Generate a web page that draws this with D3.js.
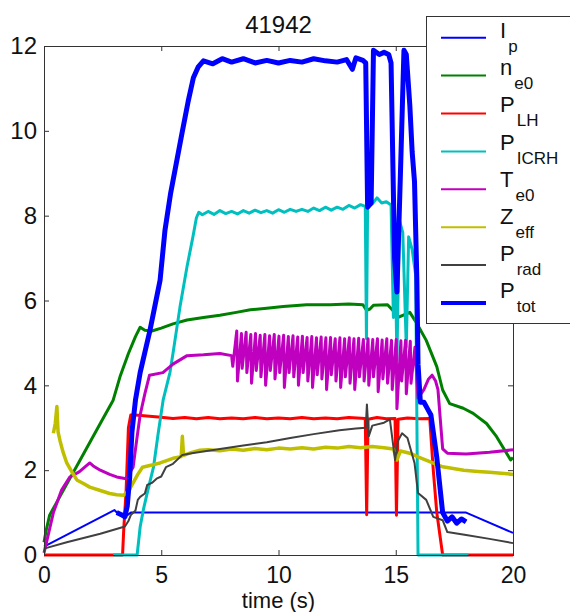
<!DOCTYPE html>
<html>
<head>
<meta charset="utf-8">
<script src="https://cdn.jsdelivr.net/npm/d3@7/dist/d3.min.js"></script>
<style>
  body { margin: 0; background: #fff; }
  text { font-family: "Liberation Sans", Arial, sans-serif; fill: #111; }
</style>
</head>
<body>
<div id="chart"></div>
<script>
// shot number and axis ticks
var shotTitle = "41942";
var xTicks = [0, 5, 10, 15, 20];
var yTicks = [0, 2, 4, 6, 8, 10, 12];

// legend labels (main letter + subscript)
var legendMain = ["I", "n", "P", "P", "T", "Z", "P", "P"];
var legendSub = ["p", "e0", "LH", "ICRH", "e0", "eff", "rad", "tot"];

// traces: [time (s), value]
var ip = [[0, 0.2], [3.0, 1.06], [3.2, 0.95], [3.45, 0.9], [3.7, 1.0], [18.0, 1.0], [20, 0.52]];

var ne0 = [[0, 0.3], [0.1, 0.6], [0.24, 0.94], [0.6, 1.3], [1.0, 1.7], [1.5, 2.2], [2.0, 2.7], [2.5, 3.2],
  [2.95, 3.65], [3.24, 4.2], [3.6, 4.75], [3.9, 5.15], [4.1, 5.37], [4.3, 5.3], [4.6, 5.28], [5.0, 5.35],
  [5.5, 5.45], [6.1, 5.54], [6.8, 5.6], [7.5, 5.65], [8.2, 5.72], [8.8, 5.78], [9.5, 5.82], [10.2, 5.86],
  [11.2, 5.9], [12.2, 5.9], [13.0, 5.92], [13.6, 5.9], [13.75, 5.77], [13.9, 5.8], [14.05, 5.89], [14.65, 5.9],
  [14.9, 5.75], [15.1, 5.6], [15.3, 5.65], [15.6, 5.72], [15.9, 5.46], [16.3, 5.06], [16.75, 4.44], [17.0, 3.89],
  [17.3, 3.57], [17.88, 3.46], [18.3, 3.34], [18.87, 3.1], [19.3, 2.79], [19.9, 2.24], [20, 2.3]];

var plh = [[0, 0], [3.35, 0], [3.4, 0.6], [3.5, 1.5], [3.6, 3.0], [3.7, 3.3], [3.9, 3.3], [4.5, 3.27], [5.0, 3.25],
  [5.5, 3.22], [6.0, 3.24], [6.5, 3.21], [7.0, 3.24], [7.5, 3.21], [8.0, 3.23], [8.5, 3.21], [9.0, 3.24], [9.5, 3.21],
  [10.0, 3.23], [10.5, 3.21], [11.0, 3.24], [11.5, 3.21], [12.0, 3.23], [12.5, 3.21], [13.0, 3.24], [13.7, 3.22],
  [13.76, 0.95], [13.82, 3.2], [14.2, 3.24], [14.6, 3.21], [14.97, 3.22], [15.03, 0.94], [15.1, 3.2], [15.5, 3.23],
  [16.0, 3.21], [16.45, 3.22], [16.6, 2.0], [16.75, 1.0], [16.95, 0.2], [17.0, 0], [20, 0]];

var picrh = [[2.95, 0], [3.97, 0], [4.05, 0.4], [4.1, 0.66], [4.25, 1.1], [4.4, 1.46], [4.55, 1.8], [4.67, 2.07],
  [4.87, 2.87], [5.08, 3.65], [5.37, 4.3], [5.5, 4.75], [5.8, 5.85], [6.1, 6.8], [6.35, 7.5], [6.5, 7.95],
  [6.6, 8.08], [6.75, 8.02], [7.0, 8.1], [7.25, 8.03], [7.5, 8.12], [7.75, 8.05], [8.0, 8.1], [8.25, 8.04],
  [8.5, 8.12], [8.75, 8.06], [9.0, 8.13], [9.25, 8.07], [9.5, 8.12], [9.75, 8.06], [10.0, 8.14], [10.25, 8.08],
  [10.5, 8.15], [10.75, 8.1], [11.0, 8.15], [11.25, 8.1], [11.5, 8.18], [11.75, 8.12], [12.0, 8.2], [12.25, 8.13],
  [12.5, 8.2], [12.75, 8.15], [13.0, 8.24], [13.25, 8.18], [13.5, 8.26], [13.7, 8.22], [13.75, 5.1], [13.8, 8.2],
  [14.0, 8.28], [14.2, 8.42], [14.4, 8.3], [14.6, 8.33], [14.8, 8.25], [14.9, 5.6], [14.95, 8.0], [15.05, 4.6],
  [15.15, 7.9], [15.3, 7.6], [15.45, 4.9], [15.55, 7.5], [15.7, 7.2], [15.85, 6.6], [15.95, 0], [18.1, 0]];

var te0 = [[0, 0.05], [0.1, 0.28], [0.4, 1.0], [0.75, 1.53], [1.1, 1.84], [1.5, 1.96], [1.95, 2.17], [2.1, 2.1],
  [2.4, 2.0], [2.8, 1.9], [3.1, 1.84], [3.5, 1.8], [3.8, 2.07], [3.95, 2.7], [4.1, 3.3], [4.3, 3.8], [4.5, 4.24],
  [5.07, 4.3], [5.5, 4.5], [6.1, 4.7], [6.8, 4.72], [7.5, 4.75], [8.0, 4.7],
  // sawtooth band
  [8.05, 4.45], [8.22, 5.28], [8.25, 4.1], [8.42, 5.22], [8.45, 4.4], [8.62, 5.25], [8.65, 4.3], [8.82, 5.2],
  [8.85, 4.05], [9.02, 5.22], [9.05, 4.35], [9.22, 5.18], [9.25, 4.2], [9.42, 5.2], [9.45, 4.0], [9.62, 5.17],
  [9.65, 4.35], [9.82, 5.2], [9.85, 4.15], [10.02, 5.16], [10.05, 4.3], [10.22, 5.18], [10.25, 3.95], [10.42, 5.15],
  [10.45, 4.3], [10.62, 5.17], [10.65, 4.2], [10.82, 5.14], [10.85, 4.0], [11.02, 5.16], [11.05, 4.3], [11.22, 5.13],
  [11.25, 4.1], [11.42, 5.15], [11.45, 3.95], [11.62, 5.12], [11.65, 4.25], [11.82, 5.14], [11.85, 4.15], [12.02, 5.12],
  [12.05, 3.9], [12.22, 5.13], [12.25, 4.25], [12.42, 5.1], [12.45, 4.1], [12.62, 5.12], [12.65, 3.95], [12.82, 5.1],
  [12.85, 4.2], [13.02, 5.12], [13.05, 4.05], [13.22, 5.1], [13.25, 3.9], [13.42, 5.11], [13.45, 4.2], [13.62, 5.08],
  [13.65, 4.1], [13.82, 5.1], [13.85, 4.0], [14.02, 5.08], [14.05, 4.2], [14.22, 5.1], [14.25, 3.85], [14.42, 5.07],
  [14.45, 4.15], [14.62, 5.1], [14.65, 4.05], [14.82, 5.06], [14.85, 3.9], [15.02, 5.08], [15.05, 3.45], [15.22, 5.05],
  [15.25, 4.1], [15.42, 5.06], [15.45, 3.8], [15.62, 5.04], [15.65, 4.05], [15.82, 4.9], [15.95, 3.7],
  [16.2, 3.9], [16.4, 4.15], [16.55, 4.24], [16.7, 4.1], [16.8, 3.9], [16.9, 3.2], [17.0, 2.5], [17.2, 2.4],
  [18.0, 2.38], [19.0, 2.42], [20, 2.48]];

var zeff = [[0.4, 2.87], [0.48, 3.1], [0.55, 3.5], [0.6, 2.9], [0.68, 2.7], [0.8, 2.45], [0.97, 2.17], [1.2, 1.95],
  [1.4, 1.77], [1.7, 1.68], [1.95, 1.6], [2.4, 1.52], [2.8, 1.45], [3.1, 1.42], [3.4, 1.41], [3.6, 1.5], [3.8, 1.7],
  [4.0, 1.9], [4.2, 2.07], [4.6, 2.12], [4.95, 2.17], [5.2, 2.22], [5.5, 2.28], [5.85, 2.32], [5.9, 2.8], [5.95, 2.35],
  [6.3, 2.42], [6.65, 2.47], [7.0, 2.48], [7.5, 2.46], [8.0, 2.5], [8.5, 2.47], [9.0, 2.51], [9.5, 2.48], [10.0, 2.52],
  [10.5, 2.5], [11.0, 2.53], [11.5, 2.5], [12.0, 2.54], [12.5, 2.52], [13.0, 2.56], [13.5, 2.53], [14.0, 2.56],
  [14.5, 2.53], [14.9, 2.5], [15.05, 2.24], [15.2, 2.45], [15.6, 2.4], [16.0, 2.3], [16.45, 2.2], [17.0, 2.08],
  [17.9, 2.0], [18.5, 1.97], [19.0, 1.95], [19.5, 1.93], [20, 1.9]];

var prad = [[0, 0.15], [0.97, 0.3], [2.4, 0.5], [3.45, 0.67], [3.6, 0.8], [3.7, 0.94], [3.9, 1.05], [4.0, 1.3],
  [4.1, 1.37], [4.3, 1.45], [4.4, 1.65], [4.6, 1.7], [4.8, 1.8], [5.0, 1.85], [5.2, 2.07], [5.5, 2.15], [5.9, 2.36],
  [6.3, 2.4], [6.65, 2.43], [7.5, 2.5], [8.5, 2.58], [9.5, 2.66], [10.5, 2.76], [11.5, 2.85], [12.6, 2.94],
  [13.3, 2.98], [13.72, 3.0], [13.77, 3.55], [13.85, 2.8], [14.0, 3.05], [14.5, 3.12], [14.75, 3.2], [14.97, 2.24],
  [15.1, 2.7], [15.27, 2.87], [15.5, 2.76], [15.8, 2.17], [15.95, 1.46], [16.3, 1.3], [16.6, 0.9], [17.0, 0.82],
  [17.2, 0.54], [18.0, 0.47], [19.0, 0.38], [20, 0.28]];

var ptot = [[3.1, 1.0], [3.3, 0.95], [3.45, 0.9], [3.55, 1.15], [3.65, 1.8], [3.75, 2.9], [3.9, 3.65], [4.1, 4.3],
  [4.52, 5.3], [4.95, 6.48], [5.16, 7.66], [5.4, 8.53], [5.87, 9.9], [6.15, 10.7], [6.37, 11.25], [6.57, 11.5],
  [6.8, 11.65], [7.2, 11.58], [7.6, 11.7], [8.0, 11.62], [8.5, 11.7], [9.0, 11.6], [9.5, 11.66], [10.0, 11.6],
  [10.5, 11.66], [11.0, 11.62], [11.5, 11.7], [12.0, 11.65], [12.5, 11.62], [12.9, 11.68], [13.15, 11.45],
  [13.3, 11.72], [13.6, 11.66], [13.72, 11.6], [13.8, 8.2], [13.95, 8.3], [14.05, 11.9], [14.3, 11.8],
  [14.5, 11.85], [14.7, 11.8], [14.8, 11.6], [14.95, 7.0], [15.05, 6.2], [15.2, 9.0], [15.35, 11.9], [15.45, 11.8],
  [15.6, 10.6], [15.7, 9.5], [15.8, 8.8], [15.9, 6.5], [15.95, 4.5], [16.05, 3.6], [16.2, 3.6], [16.35, 3.45],
  [16.5, 3.3], [16.75, 2.3], [17.0, 1.0], [17.2, 0.8], [17.4, 0.9], [17.6, 0.75], [17.8, 0.85], [18.0, 0.78]];

var seriesData = [ip, ne0, plh, picrh, te0, zeff, prad, ptot];
var seriesColor = ["#0000ff", "#008000", "#ff0000", "#00bfbf", "#bf00bf", "#bfbf00", "#404040", "#0000ff"];
var seriesWidth = [2, 3, 3, 3, 3, 3.5, 2, 5];

var width = 570, height = 612;
var plot = { left: 44, right: 513, top: 46, bottom: 555 };

var svg = d3.select("#chart")
    .append("svg")
    .attr("width", width)
    .attr("height", height);

var x = d3.scaleLinear().domain([0, 20]).range([plot.left, plot.right]);
var y = d3.scaleLinear().domain([0, 12]).range([plot.bottom, plot.top]);

var line = d3.line()
    .x(function (d) { return x(d[0]); })
    .y(function (d) { return y(d[1]); });

// traces, in MATLAB plotting order (last on top)
svg.append("g")
    .selectAll("path")
    .data(seriesData)
    .join("path")
    .attr("d", line)
    .attr("fill", "none")
    .attr("stroke", function (d, i) { return seriesColor[i]; })
    .attr("stroke-width", function (d, i) { return seriesWidth[i]; })
    .attr("stroke-linejoin", "round");

// axes box with inward ticks
function styleAxis(g, size) {
    g.select(".domain").remove();
    g.selectAll(".tick line").attr("stroke", "#333");
    g.selectAll(".tick text").attr("font-size", size).attr("fill", "#111");
}

svg.append("g")
    .attr("transform", "translate(0," + plot.bottom + ")")
    .call(d3.axisBottom(x).tickValues(xTicks).tickSize(-5).tickPadding(12).tickFormat(d3.format("d")))
    .call(styleAxis, "23px");
svg.append("g")
    .attr("transform", "translate(0," + plot.top + ")")
    .call(d3.axisTop(x).tickValues(xTicks).tickSize(-5).tickFormat(""))
    .call(styleAxis, "23px");
svg.append("g")
    .attr("transform", "translate(" + plot.left + ",0)")
    .call(d3.axisLeft(y).tickValues(yTicks).tickSize(-5).tickPadding(7).tickFormat(d3.format("d")))
    .call(styleAxis, "24px");
svg.append("g")
    .attr("transform", "translate(" + plot.right + ",0)")
    .call(d3.axisRight(y).tickValues(yTicks).tickSize(-5).tickFormat(""))
    .call(styleAxis, "24px");

svg.append("rect")
    .attr("x", plot.left + 0.5)
    .attr("y", plot.top + 0.5)
    .attr("width", plot.right - plot.left)
    .attr("height", plot.bottom - plot.top)
    .attr("fill", "none")
    .attr("stroke", "#333");

// title and x label
svg.append("text")
    .attr("x", (plot.left + plot.right) / 2)
    .attr("y", 33)
    .attr("text-anchor", "middle")
    .attr("font-size", "24px")
    .text(shotTitle);

svg.append("text")
    .attr("x", (plot.left + plot.right) / 2)
    .attr("y", 608)
    .attr("text-anchor", "middle")
    .attr("font-size", "22px")
    .text("time (s)");

// Legend
var legend = svg.append("g");
legend.append("rect")
    .attr("x", 426.5)
    .attr("y", 16.5)
    .attr("width", 160)
    .attr("height", 307)
    .attr("fill", "#fff")
    .attr("stroke", "#333");

var rows = legend.selectAll("g.row")
    .data(legendMain)
    .join("g")
    .attr("class", "row");

rows.append("line")
    .attr("x1", 441)
    .attr("x2", 486)
    .attr("y1", function (d, i) { return 37.7 + i * 37.9; })
    .attr("y2", function (d, i) { return 37.7 + i * 37.9; })
    .attr("stroke", function (d, i) { return seriesColor[i]; })
    .attr("stroke-width", function (d, i) { return i === 7 ? 4 : 2; });

var label = rows.append("text")
    .attr("x", 500)
    .attr("y", function (d, i) { return 38 + i * 37.2; })
    .attr("font-size", "22px");
label.append("tspan").text(function (d) { return d; });
label.append("tspan")
    .attr("dx", 2)
    .attr("dy", 14)
    .attr("font-size", "17px")
    .text(function (d, i) { return legendSub[i]; });
</script>
</body>
</html>
